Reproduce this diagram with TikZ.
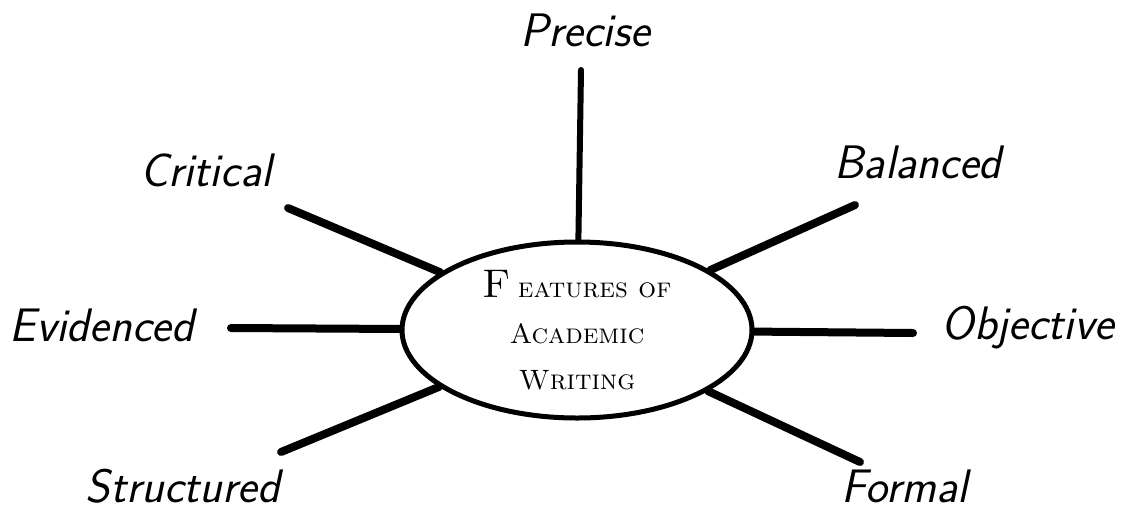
\documentclass[tikz,border=0pt]{standalone}
\usepackage{fontspec}
\usetikzlibrary{shapes.geometric}
\begin{document}
\begin{tikzpicture}[x=1pt,y=-1pt,
  ray/.style={line width=8pt,line cap=round},
  lbl/.style={font=\sffamily\itshape\fontsize{47}{50}\selectfont,inner sep=0pt},
  hub/.style={ellipse,draw,line width=5pt,minimum width=350pt,minimum height=176pt,inner sep=0pt,
    align=center,font=\scshape\fontsize{28}{46}\selectfont}]
\useasboundingbox (0,0) rectangle (1123,515);
\node[hub] (c) at (577,330) {\fontsize{40}{46}\selectfont F\,\fontsize{28}{46}\selectfont eatures of\\Academic\\Writing};
\coordinate (pP) at (581,70);
\coordinate (pC) at (288,208);
\coordinate (pB) at (855,205);
\coordinate (pE) at (231,328);
\coordinate (pO) at (913,333);
\coordinate (pS) at (281,452);
\coordinate (pF) at (860,462);
\draw[line width=6pt,line cap=round] (pP) -- (c);
\draw[ray] (pC) -- (c);
\draw[ray] (pB) -- (c);
\draw[ray] (pE) -- (c);
\draw[ray] (pO) -- (c);
\draw[ray] (pS) -- (c);
\draw[ray] (pF) -- (c);
\node[lbl] (lP) at (585,30) {Precise};
\node[lbl] (lC) at (206,170) {Critical};
\node[lbl] (lB) at (918,162) {Balanced};
\node[lbl] (lE) at (102,325) {Evidenced};
\node[lbl] (lO) at (1028,328) {Objective};
\node[lbl] (lS) at (183,486) {Structured};
\node[lbl] (lF) at (905,486) {Formal};
\end{tikzpicture}
\end{document}
